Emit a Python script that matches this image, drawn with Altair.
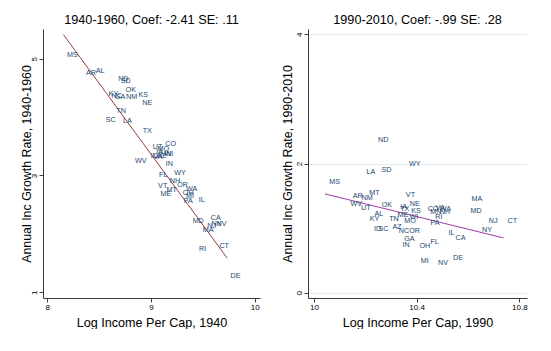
import altair as alt
import pandas as pd

# ---- 1940-1960 panel ----
states_40 = ["MS", "AR", "AL", "ND", "SD", "OK", "KY", "NC", "GA", "NM", "KS", "NE",
             "TN", "SC", "LA", "TX", "UT", "CO", "MO", "IA", "ID", "VA", "AZ", "MN",
             "WI", "WV", "IN", "FL", "WY", "NH", "OR", "VT", "MT", "ME", "WA", "OH",
             "MI", "PA", "IL", "MD", "CA", "NJ", "NY", "NV", "MA", "CT", "RI", "DE"]
loginc_40 = [8.243, 8.423, 8.510, 8.734, 8.757, 8.805, 8.638, 8.670, 8.702, 8.814, 8.926, 8.964,
             8.712, 8.612, 8.772, 8.964, 9.064, 9.189, 9.118, 9.080, 9.032, 9.067, 9.103, 9.144,
             9.173, 8.901, 9.176, 9.118, 9.279, 9.231, 9.305, 9.113, 9.199, 9.144, 9.391, 9.359,
             9.375, 9.359, 9.488, 9.455, 9.625, 9.584, 9.632, 9.680, 9.551, 9.705, 9.497, 9.814]
growth_40 = [5.07, 4.757, 4.784, 4.659, 4.612, 4.458, 4.401, 4.355, 4.345, 4.345, 4.384, 4.242,
             4.110, 3.943, 3.933, 3.767, 3.487, 3.539, 3.458, 3.401, 3.338, 3.312, 3.326, 3.360,
             3.367, 3.252, 3.196, 3.012, 3.041, 2.897, 2.840, 2.823, 2.755, 2.686, 2.767, 2.708,
             2.652, 2.554, 2.578, 2.223, 2.278, 2.142, 2.166, 2.166, 2.069, 1.799, 1.743, 1.280]
fit_x_40 = [8.157, 9.734]
fit_y_40 = [5.413, 1.583]

# ---- 1990-2010 panel ----
states_90 = ["ND", "LA", "SD", "WY", "MS", "AR", "NM", "MT", "WV", "UT", "OK", "AL",
             "KY", "TN", "ID", "SC", "AZ", "NC", "OR", "GA", "IN", "VT", "IA", "TX",
             "NE", "KS", "ME", "WI", "MO", "OH", "FL", "MI", "NV", "DE", "IL", "CA",
             "NY", "NJ", "CT", "MD", "MA", "PA", "RI", "CO", "VA", "WA", "MN", "NH"]
loginc_90 = [10.270, 10.222, 10.283, 10.393, 10.081, 10.171, 10.207, 10.236, 10.165, 10.202, 10.284, 10.253,
             10.236, 10.312, 10.248, 10.271, 10.324, 10.351, 10.392, 10.372, 10.359, 10.376, 10.350, 10.354,
             10.393, 10.398, 10.347, 10.389, 10.374, 10.432, 10.470, 10.432, 10.503, 10.561, 10.536, 10.571,
             10.674, 10.698, 10.773, 10.632, 10.635, 10.472, 10.487, 10.464, 10.492, 10.512, 10.475, 10.510]
growth_90 = [2.361, 1.871, 1.907, 2.000, 1.710, 1.504, 1.468, 1.540, 1.380, 1.313, 1.353, 1.220,
             1.143, 1.143, 0.992, 0.992, 1.012, 0.961, 0.961, 0.833, 0.744, 1.515, 1.329, 1.302,
             1.375, 1.271, 1.198, 1.171, 1.116, 0.718, 0.780, 0.488, 0.457, 0.538, 0.919, 0.848,
             0.977, 1.112, 1.104, 1.260, 1.457, 1.081, 1.178, 1.298, 1.307, 1.298, 1.251, 1.248]
fit_x_90 = [10.043, 10.739]
fit_y_90 = [1.530, 0.848]

FONT = "Liberation Sans"
LABEL_COLOR = "#1a476f"
AXIS_COLOR = "#3c3c3c"
PLOT_H = 269


def panel(states, xs, ys, fx, fy, title, xtitle, ytitle, xdom, ydom, xticks, yticks,
          line_color, grid, width, ytitle_x):
    df = pd.DataFrame({"state": states, "x": xs, "y": ys})
    fit = pd.DataFrame({"x": fx, "y": fy})
    xenc = alt.X("x:Q",
                 scale=alt.Scale(domain=xdom, nice=False, zero=False),
                 axis=alt.Axis(values=xticks, title=xtitle, grid=False,
                               labelExpr="datum.value", domainColor=AXIS_COLOR,
                               tickColor=AXIS_COLOR, tickSize=4, labelFontSize=8,
                               labelPadding=1, titleFontSize=12.6, titleFontWeight="normal",
                               titleY=24, titleBaseline="middle",
                               labelFont=FONT, titleFont=FONT,
                               labelColor="#000000", titleColor="#000000"))
    yenc = alt.Y("y:Q",
                 scale=alt.Scale(domain=ydom, nice=False, zero=False),
                 axis=alt.Axis(values=yticks, title=ytitle, grid=grid, gridColor="#e4ecef",
                               labelExpr="datum.value", domainColor=AXIS_COLOR,
                               tickColor=AXIS_COLOR, tickSize=4, labelFontSize=8,
                               labelAngle=270, labelPadding=1, titleFontSize=12.4,
                               titleFontWeight="normal", titleX=ytitle_x,
                               titleY=PLOT_H / 2, titleBaseline="middle",
                               labelFont=FONT, titleFont=FONT,
                               labelColor="#000000", titleColor="#000000"))
    line = alt.Chart(fit).mark_line(color=line_color, strokeWidth=1).encode(x=xenc, y=yenc)
    text = alt.Chart(df).mark_text(font=FONT, fontSize=7.2, color=LABEL_COLOR,
                                   align="center", baseline="middle").encode(
        x="x:Q", y="y:Q", text="state:N")
    return alt.layer(line, text).properties(
        width=width, height=PLOT_H,
        title=alt.TitleParams(title, font=FONT, fontSize=12.7, fontWeight="normal",
                              color="#000000", offset=2, anchor="middle"))


left = panel(states_40, loginc_40, growth_40, fit_x_40, fit_y_40,
             "1940-1960, Coef: -2.41 SE: .11", "Log Income Per Cap, 1940",
             "Annual Inc Growth Rate, 1940-1960",
             [7.96, 10.05], [0.9, 5.51], [8, 9, 10], [1, 3, 5], "#9b3a3f", False, 217, -17)
right = panel(states_90, loginc_90, growth_90, fit_x_90, fit_y_90,
              "1990-2010, Coef: -.99 SE: .28", "Log Income Per Cap, 1990",
              "Annual Inc Growth Rate, 1990-2010",
              [9.977, 10.83], [-0.08, 4.08], [10, 10.4, 10.8], [0, 2, 4], "#a23aa8", True, 219, -21)

chart = alt.hconcat(left, right, spacing=21).properties(
    padding={"left": 20, "top": 14, "right": 0, "bottom": 0},
    background="white"
).configure_view(stroke=None)

chart.save("out.html", embed_options={"renderer": "svg", "actions": False})
